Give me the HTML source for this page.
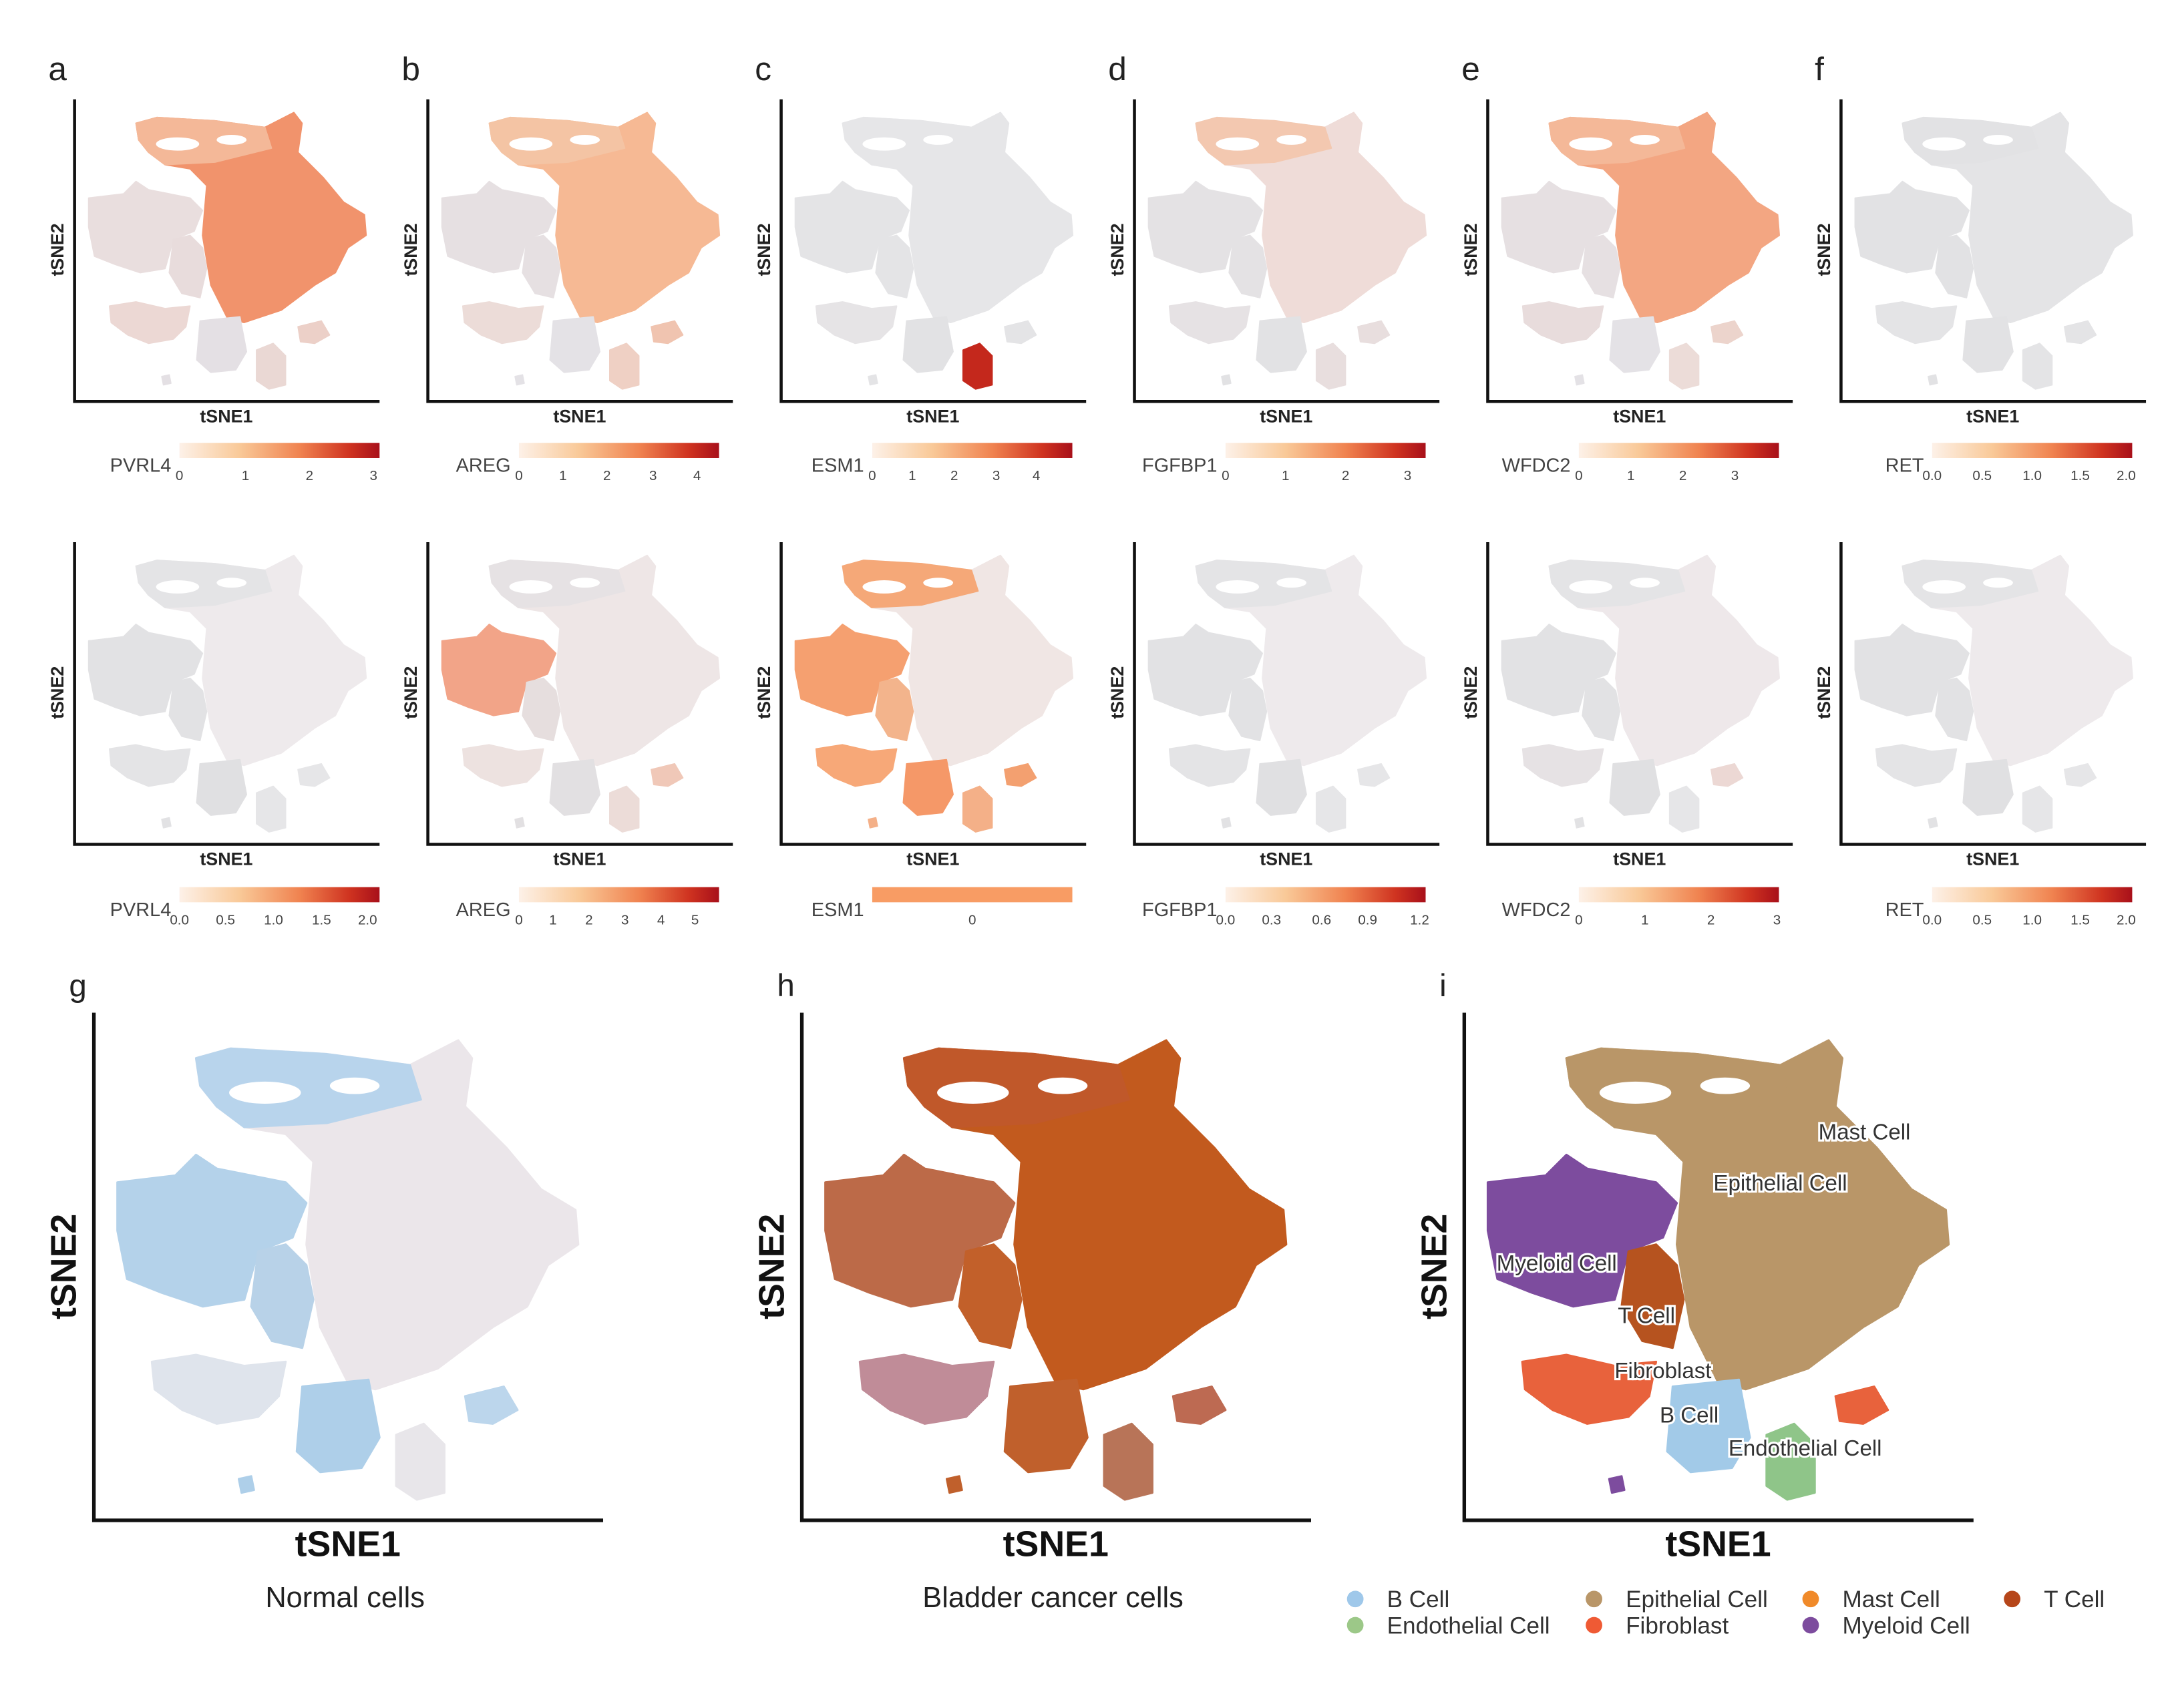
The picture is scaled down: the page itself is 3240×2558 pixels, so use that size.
<!DOCTYPE html>
<html><head><meta charset="utf-8"><style>
html,body{margin:0;padding:0;background:#fff;}
svg{display:block;font-family:"Liberation Sans",sans-serif;}
</style></head><body>
<svg id="fig" width="3240" height="2558" viewBox="0 0 1568 1238" xmlns="http://www.w3.org/2000/svg">
<defs>
<linearGradient id="cbar" x1="0" x2="1" y1="0" y2="0">
<stop offset="0" stop-color="#fdf1e8"/><stop offset="0.3" stop-color="#f9c998"/><stop offset="0.6" stop-color="#f08350"/><stop offset="0.85" stop-color="#cf3320"/><stop offset="1" stop-color="#a8101a"/>
</linearGradient>
</defs>
</svg>
<script>
const NS="http://www.w3.org/2000/svg";
const svg=document.getElementById('fig');
function mk(tag,attrs,parent){const e=document.createElementNS(NS,tag);for(const k in attrs)e.setAttribute(k,attrs[k]);(parent||svg).appendChild(e);return e;}

const clusterNames=["epithelial","myeloid","tcell","fibroblast","bcell","endothelial","fibroblast2","myeloid2","top-band"];
const clusterShapes=[
[[1135,765],[1160,758],[1230,762],[1290,770],[1325,752],[1335,765],[1330,800],[1360,830],[1385,860],[1410,875],[1412,900],[1390,915],[1375,945],[1350,960],[1310,990],[1265,1005],[1245,1000],[1225,960],[1215,900],[1220,840],[1200,820],[1170,815],[1150,800],[1138,785]],
[[1078,855],[1120,850],[1135,835],[1150,845],[1200,855],[1215,870],[1205,895],[1180,905],[1170,940],[1140,945],[1110,935],[1085,925],[1078,890]],
[[1180,905],[1200,900],[1215,915],[1220,940],[1212,975],[1190,970],[1175,945]],
[[1103,985],[1135,980],[1170,988],[1200,985],[1195,1010],[1180,1025],[1150,1030],[1125,1020],[1105,1005]],
[[1212,1003],[1260,998],[1268,1040],[1255,1062],[1225,1065],[1208,1050]],
[[1280,1038],[1300,1030],[1315,1045],[1315,1080],[1295,1085],[1280,1075]],
[[1330,1010],[1358,1003],[1368,1020],[1350,1030],[1333,1028]],
[[1166,1070],[1175,1068],[1177,1078],[1168,1080]],
[[1135,765],[1160,758],[1230,762],[1290,770],[1298,795],[1230,812],[1170,815],[1150,800],[1138,785]]
];
const colA1=["#f1936c","#e9dede","#e8dcdc","#ecd8d4","#e4e0e4","#ead8d4","#ecd0c8","#e4e0e4","#f4b898"];
const colB1=["#f6b994","#e6e0e2","#e6e0e2","#ecdcd8","#e4e2e6","#efd0c4","#f0c4b0","#e4e2e6","#f4c4a4"];
const colC1=["#e6e6e8","#e4e4e6","#e4e4e6","#e6e4e6","#e2e2e4","#c4281c","#e4e4e6","#e4e4e6","#e6e6e8"];
const colD1=["#efdcd8","#e4e2e4","#e4e2e4","#e6e2e4","#e2e2e4","#e8dede","#e8dede","#e2e2e4","#f3c8b0"];
const colE1=["#f3a682","#e6e0e2","#e6e0e2","#e8dcdc","#e4e2e6","#ecdcd8","#ecd4cc","#e4e2e6","#f4b898"];
const colF1=["#e4e4e6","#e2e2e4","#e2e2e4","#e4e4e6","#e2e2e4","#e4e4e6","#e4e4e6","#e2e2e4","#e2e2e4"];
const colA2=["#eeeaec","#e2e2e4","#e2e2e4","#e4e4e6","#e0e0e2","#e6e6e8","#e6e6e8","#e2e2e4","#e4e4e6"];
const colB2=["#eee6e6","#f2a488","#e6dede","#ede2e0","#e2e0e2","#ecdcd8","#f0c8b8","#e2e0e2","#e6e2e4"];
const colC2=["#f0e6e4","#f5a070","#f3b48c","#f7a878","#f59868","#f4b088","#f3a070","#f4b088","#f5a878"];
const colD2=["#eeeaec","#e2e2e4","#e2e2e4","#e4e4e6","#e0e0e2","#e6e6e8","#e6e6e8","#e2e2e4","#e4e4e6"];
const colE2=["#eee8ea","#e2e2e4","#e2e2e4","#e6e2e4","#e0e0e2","#e6e6e8","#ecd8d4","#e2e2e4","#e4e4e6"];
const colF2=["#eeeaec","#e2e2e4","#e2e2e4","#e4e4e6","#e0e0e2","#e6e6e8","#e6e6e8","#e2e2e4","#e4e4e6"];
const colG=["#ebe6ea","#b4d2ea","#b8d2e8","#dfe4ec","#aecfe9","#e8e6ea","#bcd6ec","#aecfe9","#b8d4ec"];
const colH=["#c25a1e","#bc6a48","#c2602a","#c08c98","#c0602c","#b87458","#bd6a52","#c0602c","#c0582a"];
const colI=["#b99668","#7d4c9e","#b6531f","#e8623c","#a2cae8","#8fc589","#e8623c","#7d4c9e","#b99668"];

const genes1=["PVRL4","AREG","ESM1","FGFBP1","WFDC2","RET"];
const ticks1=[["0","1","2","3"],["0","1","2","3","4"],["0","1","2","3","4"],["0","1","2","3"],["0","1","2","3"],["0.0","0.5","1.0","1.5","2.0"]];
const tickFrac1=[[0,0.33,0.65,0.97],[0,0.22,0.44,0.67,0.89],[0,0.2,0.41,0.62,0.82],[0,0.3,0.6,0.91],[0,0.26,0.52,0.78],[0,0.25,0.5,0.74,0.97]];
const ticks2=[["0.0","0.5","1.0","1.5","2.0"],["0","1","2","3","4","5"],["0"],["0.0","0.3","0.6","0.9","1.2"],["0","1","2","3"],["0.0","0.5","1.0","1.5","2.0"]];
const tickFrac2=[[0,0.23,0.47,0.71,0.94],[0,0.17,0.35,0.53,0.71,0.88],[0.5],[0,0.23,0.48,0.71,0.97],[0,0.33,0.66,0.99],[0,0.25,0.5,0.74,0.97]];
const panelLetters=["a","b","c","d","e","f"];

function drawClusters(X,Y,s,cols,name){
  const g=mk('g',{});
  
  
  clusterShapes.forEach((pts,i)=>{
    const d=pts.map(p=>(X+(p[0]-1061)*s).toFixed(1)+','+(Y+(p[1]-1100)*s).toFixed(1)).join(' ');
    const p=mk('polygon',{points:d,fill:cols[i],'stroke':cols[i],'stroke-width':1.5*s,'stroke-linejoin':'round'},g);
    
    
  });
  [[1185,790,26,8],[1250,785,18,6],[1165,830,14,10]].forEach(h=>{
    mk('ellipse',{cx:X+(h[0]-1061)*s,cy:Y+(h[1]-1100)*s,rx:h[2]*s,ry:h[3]*s,fill:'#fff'},g);
  });
}
function axes(X,Y,w,h,lw,name){
  const a=mk('path',{d:`M${X},${Y-h} L${X},${Y} L${X+w},${Y}`,fill:'none',stroke:'#111','stroke-width':lw});
  
  
}
function txt(x,y,t,size,opts,name){
  const e=mk('text',Object.assign({x:x,y:y,'font-size':size,fill:'#222'},opts||{}));
  e.textContent=t;
  
  
  return e;
}

const colsRow1=[colA1,colB1,colC1,colD1,colE1,colF1];
const colsRow2=[colA2,colB2,colC2,colD2,colE2,colF2];
const s=0.602;
for(let c=0;c<6;c++){
  const X=54+c*256;
  [[291,colsRow1,ticks1,tickFrac1,321],[612,colsRow2,ticks2,tickFrac2,643]].forEach((row,r)=>{
    const Y=row[0];
    drawClusters(X,Y,s,row[1][c],genes1[c]+'-row'+(r+1));
    axes(X,Y,221,219,2.2,genes1[c]+'-row'+(r+1));
    txt(X+110,Y+15,'tSNE1',13,{'text-anchor':'middle','font-weight':'bold'},'x-axis-title');
    txt(X-8,Y-110,'tSNE2',13,{'text-anchor':'middle','font-weight':'bold',transform:`rotate(-90 ${X-8} ${Y-110})`},'y-axis-title');
    const by=row[4], bx=X+76+(c>=1?-10:0);
    const bw=145;
    const bar=mk('rect',{x:bx,y:by,width:bw,height:11,fill:(r===1&&c===2)?'#f89c64':'url(#cbar)'});
    
    
    txt(bx-6,by+21,genes1[c],14,{'text-anchor':'end',fill:'#444'},'colorbar-title');
    row[2][c].forEach((t,i)=>{
      txt(bx+row[3][c][i]*bw,by+27,t,10,{'text-anchor':'middle',fill:'#444'},'colorbar-tick');
    });
  });
  txt(X-19,58,panelLetters[c],24,{fill:'#222'},'panel-label-'+panelLetters[c]);
}

const big=[[68,colG,'g','Normal cells'],[581,colH,'h','Bladder cancer cells'],[1061,colI,'i','']];
big.forEach(b=>{
  const X=b[0],Y=1102;
  drawClusters(X,Y,1,b[1],'panel-'+b[2]);
  axes(X,Y,369,368,2.6,'panel-'+b[2]);
  txt(X+184,1128,'tSNE1',26,{'text-anchor':'middle','font-weight':'bold',fill:'#111'},'x-axis-title');
  txt(X-13,918,'tSNE2',26,{'text-anchor':'middle','font-weight':'bold',fill:'#111',transform:`rotate(-90 ${X-13} 918)`},'y-axis-title');
  txt(X-18,722,b[2],23,{},'panel-label-'+b[2]);
  if(b[3]) txt(X+182,1165,b[3],21,{'text-anchor':'middle'},'panel-caption');
});

const labelNames=["Mast Cell","Epithelial Cell","Myeloid Cell","T Cell","Fibroblast","B Cell","Endothelial Cell"];
const labelPos=[[1351,826],[1290,863],[1128,921],[1193,959],[1205,999],[1224,1031],[1308,1055]];
labelNames.forEach((n,i)=>{
  txt(labelPos[i][0],labelPos[i][1],n,16,{'text-anchor':'middle',fill:'#333',stroke:'#fff','stroke-width':3,'paint-order':'stroke'},'cluster-label');
});

const legNames=["B Cell","Epithelial Cell","Mast Cell","T Cell","Endothelial Cell","Fibroblast","Myeloid Cell"];
const legCols=["#9fc8ea","#b99668","#f08a2a","#b6461a","#9cc888","#ef5a34","#7d4c9e"];
const legPos=[[982,1159],[1155,1159],[1312,1159],[1458,1159],[982,1178],[1155,1178],[1312,1178]];
legNames.forEach((n,i)=>{
  const g=mk('g',{});
  
  
  mk('circle',{cx:legPos[i][0],cy:legPos[i][1],r:6,fill:legCols[i]},g);
  const t=mk('text',{x:legPos[i][0]+23,y:legPos[i][1]+6,'font-size':17,fill:'#333'},g);
  t.textContent=n;
});
</script>
</body></html>
